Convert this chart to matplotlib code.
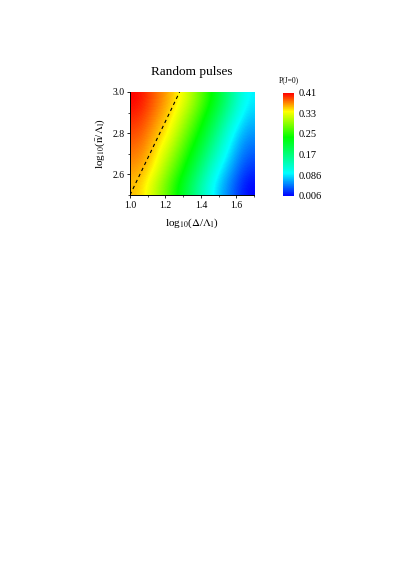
"""
Heat map of P(J=0) for random pulses
"""

import numpy as np
import matplotlib
matplotlib.use("Agg")
import matplotlib.pyplot as plt
from matplotlib.colors import LinearSegmentedColormap

# grid
X_VALS = [1.0, 1.1, 1.2, 1.3, 1.4, 1.5, 1.6, 1.7]
Y_VALS = [2.5, 2.6, 2.7, 2.8, 2.9, 3.0]
P_ROW_25 = [0.355, 0.319, 0.267, 0.210, 0.142, 0.083, 0.045, 0.006]
P_ROW_26 = [0.366, 0.341, 0.290, 0.237, 0.172, 0.104, 0.062, 0.023]
P_ROW_27 = [0.377, 0.352, 0.313, 0.260, 0.202, 0.134, 0.079, 0.040]
P_ROW_28 = [0.388, 0.363, 0.336, 0.283, 0.231, 0.164, 0.096, 0.057]
P_ROW_29 = [0.399, 0.374, 0.349, 0.306, 0.254, 0.194, 0.126, 0.074]
P_ROW_30 = [0.410, 0.385, 0.360, 0.330, 0.277, 0.223, 0.155, 0.090]

# dashed boundary line
LINE_X = [1.0, 1.28]
LINE_Y = [2.5, 3.0]

CBAR_TICKS = [0.006, 0.086, 0.17, 0.25, 0.33, 0.41]
CBAR_LABELS = ["0.006", "0.086", "0.17", "0.25", "0.33", "0.41"]

plt.rcParams["font.family"] = ["Liberation Serif", "DejaVu Serif"]
plt.rcParams["mathtext.fontset"] = "stix"

cmap = LinearSegmentedColormap.from_list(
    "rainbow_p",
    [
        (0.0, "#0000ff"),
        (0.22, "#00ffff"),
        (0.57, "#00ff00"),
        (0.82, "#ffff00"),
        (1.0, "#ff0000"),
    ],
)

z = np.array([P_ROW_25, P_ROW_26, P_ROW_27, P_ROW_28, P_ROW_29, P_ROW_30])

fig = plt.figure(figsize=(4.15, 5.88), dpi=100)
ax = fig.add_axes([0.3133, 0.6684, 0.2988, 0.1752])
cax = fig.add_axes([0.682, 0.6667, 0.0265, 0.1752])

im = ax.imshow(
    z,
    origin="lower",
    extent=[X_VALS[0], X_VALS[-1], Y_VALS[0], Y_VALS[-1]],
    aspect="auto",
    cmap=cmap,
    vmin=0.006,
    vmax=0.41,
    interpolation="bicubic",
)

ax.plot(LINE_X, LINE_Y, ls=(0, (3, 3)), color="black", lw=0.8)

ax.set_xlim(1.0, 1.7)
ax.set_ylim(2.5, 3.0)
ax.set_xticks([1.0, 1.2, 1.4, 1.6])
ax.set_xticks([1.1, 1.3, 1.5, 1.7], minor=True)
ax.set_yticks([2.6, 2.8, 3.0])
ax.set_yticks([2.5, 2.7, 2.9], minor=True)
ax.xaxis.set_major_formatter(plt.FuncFormatter(lambda v, loc: "{:.1f}".format(v)))
ax.yaxis.set_major_formatter(plt.FuncFormatter(lambda v, loc: "{:.1f}".format(v)))
ax.tick_params(labelsize=7, length=2.5, width=0.6, direction="out", pad=1.5)
ax.tick_params(which="minor", length=1.5, width=0.5)
for side in ["top", "right"]:
    ax.spines[side].set_visible(False)
for side in ["left", "bottom"]:
    ax.spines[side].set_linewidth(0.7)

ax.set_xlabel(r"log$_{10}$($\Delta$/$\Lambda_{\rm l}$)", fontsize=8, labelpad=5)
ax.set_ylabel(r"log$_{10}$($\bar{\rm n}$/$\Lambda_{\rm l}$)", fontsize=8, labelpad=4)
ax.set_title("Random pulses", fontsize=9.5, pad=12)

cb = fig.colorbar(im, cax=cax, ticks=CBAR_TICKS)
cb.ax.set_yticklabels(CBAR_LABELS)
cb.ax.tick_params(labelsize=7.5, length=0, pad=3)
cb.outline.set_visible(False)
cax.set_title("P(J=0)", fontsize=5.5, pad=8)

plt.savefig("out.png", dpi=100)
